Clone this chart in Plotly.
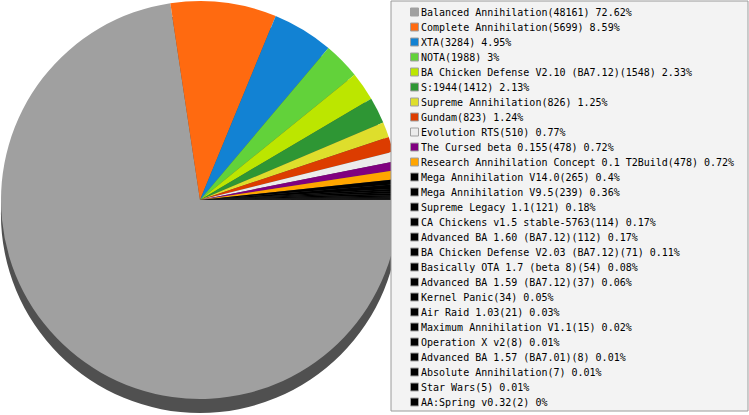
import plotly.graph_objects as go

W, H = 749, 415

labels = [
    "Balanced Annihilation", "Complete Annihilation", "XTA", "NOTA",
    "BA Chicken Defense V2.10 (BA7.12)", "S:1944", "Supreme Annihilation",
    "Gundam", "Evolution RTS", "The Cursed beta 0.155",
    "Research Annihilation Concept 0.1 T2Build", "Mega Annihilation V14.0",
    "Mega Annihilation V9.5", "Supreme Legacy 1.1",
    "CA Chickens v1.5 stable-5763", "Advanced BA 1.60 (BA7.12)",
    "BA Chicken Defense V2.03 (BA7.12)", "Basically OTA 1.7 (beta 8)",
    "Advanced BA 1.59 (BA7.12)", "Kernel Panic", "Air Raid 1.03",
    "Maximum Annihilation V1.1", "Operation X v2", "Advanced BA 1.57 (BA7.01)",
    "Absolute Annihilation", "Star Wars", "AA:Spring v0.32",
]
values = [48161, 5699, 3284, 1988, 1548, 1412, 826, 823, 510, 478, 478, 265,
          239, 121, 114, 112, 71, 54, 37, 34, 21, 15, 8, 8, 7, 5, 2]
colors = ["#a0a0a0", "#ff6a10", "#1282d3", "#62d23a", "#bce600", "#2e9634",
          "#dede2c", "#dc3c00", "#ececec", "#800080", "#ffa500"] + ["#000000"] * 16

total = sum(values)


def px_x(x):
    return x / W


def px_y(y):
    return 1 - y / H


# pie geometry in pixels (top face and depth shadow)
cx, cy, r, depth = 200, 200, 199, 14

fig = go.Figure()
fig.add_trace(go.Pie(
    values=[1], labels=["shadow"], sort=False, showlegend=False,
    marker=dict(colors=["#505050"], line=dict(width=0)),
    textinfo="none", hoverinfo="skip",
    domain=dict(x=[px_x(cx - r), px_x(cx + r)],
                y=[px_y(cy + r + depth), px_y(cy - r + depth)]),
))
fig.add_trace(go.Pie(
    values=values, labels=labels, sort=False, direction="clockwise",
    rotation=90, showlegend=False,
    marker=dict(colors=colors, line=dict(width=0)),
    textinfo="none",
    domain=dict(x=[px_x(cx - r), px_x(cx + r)],
                y=[px_y(cy + r), px_y(cy - r)]),
))

shapes = [dict(type="rect", xref="paper", yref="paper",
               x0=px_x(391), x1=px_x(748), y0=px_y(411), y1=px_y(1),
               fillcolor="#f3f3f3", line=dict(color="#9a9a9a", width=1))]
annotations = []
for i, (lab, v, c) in enumerate(zip(labels, values, colors)):
    yc = 12 + 15 * i
    pct = f"{round(v / total * 100, 2):g}"
    shapes.append(dict(type="rect", xref="paper", yref="paper",
                       x0=px_x(410.5), x1=px_x(418.5),
                       y0=px_y(yc + 4), y1=px_y(yc - 4),
                       fillcolor=c, line=dict(color="#a0a0a0", width=1)))
    annotations.append(dict(xref="paper", yref="paper", x=px_x(419), y=px_y(yc),
                            xanchor="left", yanchor="middle", showarrow=False,
                            text=f"{lab}({v}) {pct}%",
                            font=dict(family="DejaVu Sans Mono", size=10,
                                      color="#000000")))

fig.update_layout(width=W, height=H, margin=dict(l=0, r=0, t=0, b=0),
                  paper_bgcolor="white", plot_bgcolor="white",
                  shapes=shapes, annotations=annotations, showlegend=False)

fig.write_html("out.html", config={"displayModeBar": False},
               post_script="document.body.style.margin='0';"
                           "document.body.style.overflow='hidden';")
